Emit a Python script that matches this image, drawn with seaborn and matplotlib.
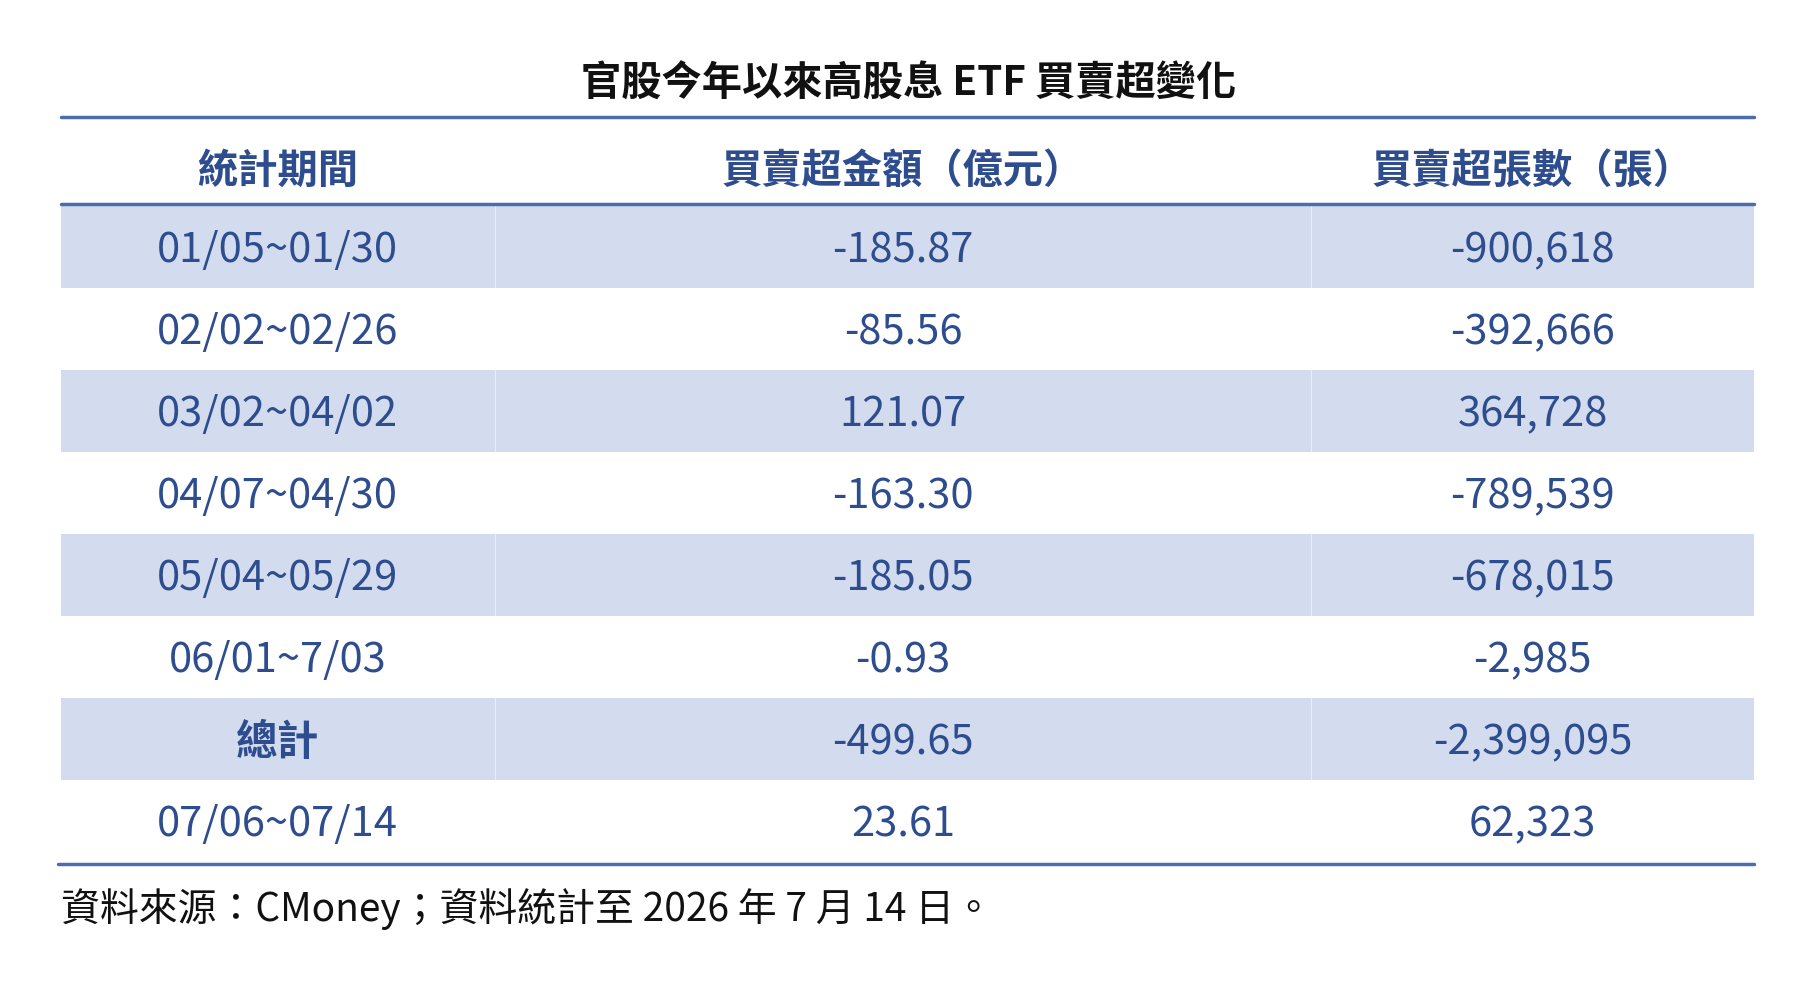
import matplotlib
matplotlib.use("Agg")
import matplotlib.pyplot as plt
import seaborn as sns
import numpy as np

title = "官股今年以來高股息 ETF 買賣超變化"
headers = ["統計期間", "買賣超金額（億元）", "買賣超張數（張）"]
periods = ["01/05~01/30", "02/02~02/26", "03/02~04/02", "04/07~04/30",
           "05/04~05/29", "06/01~7/03", "總計", "07/06~07/14"]
amounts = ["-185.87", "-85.56", "121.07", "-163.30", "-185.05", "-0.93", "-499.65", "23.61"]
lots = ["-900,618", "-392,666", "364,728", "-789,539", "-678,015", "-2,985", "-2,399,095", "62,323"]
footnote = "資料來源：CMoney；資料統計至 2026 年 7 月 14 日。"

sns.set_style("white")
plt.rcParams['font.family'] = ['Noto Sans CJK TC', 'DejaVu Sans']

W, H = 1560, 848
fig = plt.figure(figsize=(18.18, 9.88), dpi=100)
ax = fig.add_axes([0, 0, 1, 1])
ax.set_xlim(0, W); ax.set_ylim(H, 0); ax.axis("off")

blue = "#2e4d8f"; band = "#d3dcee"; line = "#4d6cab"
L, R = 52, 1505
cols = [238, 775, 1315]
divs = [425, 1125]
row_top = 177; rh = 70.4

ax.text(W/2, 72, title, ha="center", va="center", fontsize=29, fontweight="bold", color="#111111")
ax.plot([L, R], [100, 100], color=line, lw=2.5)
for c, h in zip(cols, headers):
    ax.text(c, 147, h, ha="center", va="center", fontsize=29, fontweight="bold", color=blue)
ax.plot([L, R], [175, 175], color=line, lw=2.5)
for i in range(len(periods)):
    y0 = row_top + i*rh
    if i % 2 == 0:
        ax.add_patch(plt.Rectangle((L, y0), R-L, rh, color=band, lw=0))
    yc = y0 + rh/2 + 3
    bold = periods[i] == "總計"
    ax.text(cols[0], yc, periods[i], ha="center", va="center", fontsize=30, color=blue,
            fontweight="bold" if bold else "normal")
    ax.text(cols[1], yc, amounts[i], ha="center", va="center", fontsize=30, color=blue)
    ax.text(cols[2], yc, lots[i], ha="center", va="center", fontsize=30, color=blue)
for d in divs:
    ax.plot([d, d], [row_top, row_top + 8*rh], color="white", lw=0.6, alpha=0.6)
ax.plot([L-2, R], [row_top + 8*rh + 1, row_top + 8*rh + 1], color=line, lw=2.5)
ax.text(L, 780, footnote, ha="left", va="center", fontsize=28, color="#111111")
fig.savefig("out.png", dpi=100)
